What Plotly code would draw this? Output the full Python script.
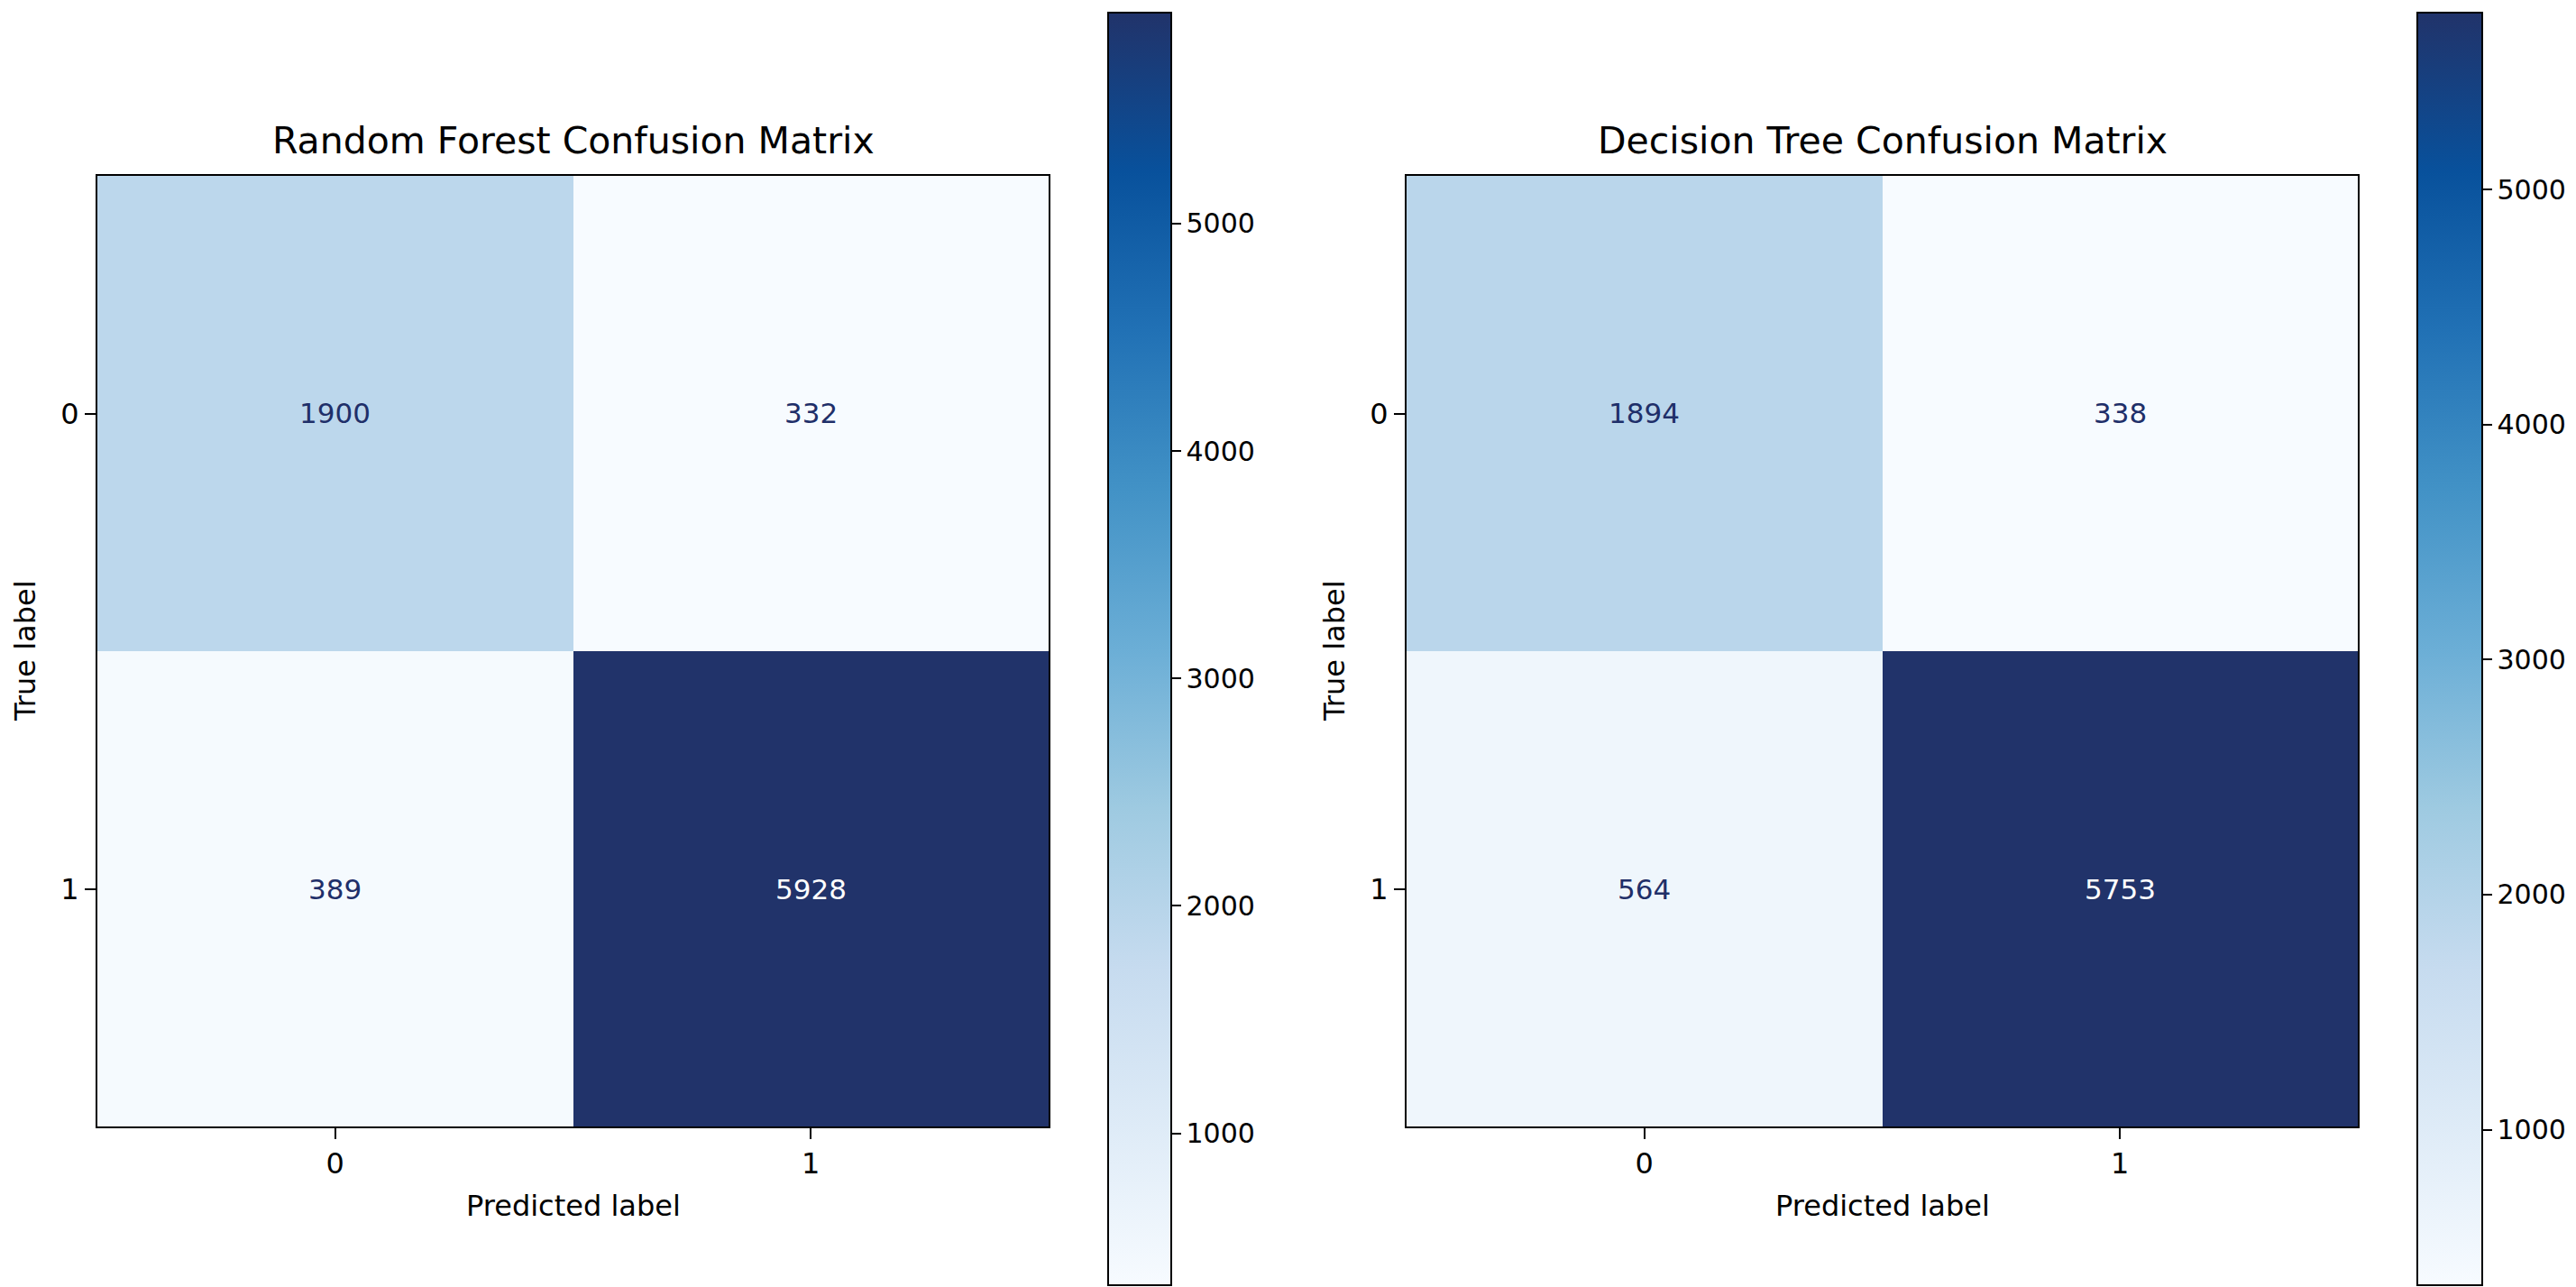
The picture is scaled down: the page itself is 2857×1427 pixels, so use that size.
import plotly.graph_objects as go

W, H = 2857, 1427

labels = [0, 1]
rf_matrix = [[1900, 332], [389, 5928]]
dt_matrix = [[1894, 338], [564, 5753]]
titles = ["Random Forest Confusion Matrix", "Decision Tree Confusion Matrix"]
cbar_ticks = [1000, 2000, 3000, 4000, 5000]

dark = "#21336a"
text_dark = "#1f2f69"
blues = [
    [0.0, "#f7fbff"], [0.125, "#deebf7"], [0.25, "#c6dbef"], [0.375, "#9ecae1"],
    [0.5, "#6baed6"], [0.625, "#4292c6"], [0.75, "#2171b5"], [0.875, "#08519c"],
    [1.0, dark],
]

FONT = "DejaVu Sans"

def px_x(p):
    return p / W

def px_y(p):
    return 1 - p / H

panels = [
    dict(m=rf_matrix, title=titles[0], ax=(100, 1155), cb=(1221, 1291), xa="x", ya="y"),
    dict(m=dt_matrix, title=titles[1], ax=(1552, 2607), cb=(2673, 2745), xa="x2", ya="y2"),
]
top, bottom = 187, 1241

fig = go.Figure()
annotations = []
for i, p in enumerate(panels):
    m = p["m"]
    flat = [v for row in m for v in row]
    zmin, zmax = min(flat), max(flat)
    fig.add_trace(go.Heatmap(
        z=m, x=labels, y=labels, colorscale=blues, zmin=zmin, zmax=zmax,
        xaxis=p["xa"], yaxis=p["ya"], hoverinfo="skip",
        colorbar=dict(
            x=px_x(p["cb"][0]), xanchor="left", xpad=0, ypad=0,
            y=px_y((6 + 1417) / 2), yanchor="middle", len=(1417 - 6) / H, lenmode="fraction",
            thickness=p["cb"][1] - p["cb"][0], thicknessmode="pixels",
            outlinewidth=2, outlinecolor="black",
            tickvals=cbar_ticks, ticks="outside", ticklen=10, tickwidth=2, tickcolor="black",
            tickfont=dict(family=FONT, size=30, color="black"),
        ),
    ))
    thresh = (zmax + zmin) / 2
    for r, row in enumerate(m):
        for c, v in enumerate(row):
            annotations.append(dict(
                x=labels[c], y=labels[r], xref=p["xa"], yref=p["ya"], text=str(v),
                showarrow=False,
                font=dict(family=FONT, size=31, color="white" if v > thresh else text_dark),
            ))
    x0, x1 = p["ax"]
    cx = (x0 + x1) / 2
    annotations.append(dict(x=px_x(cx), y=px_y(148), xref="paper", yref="paper", text=p["title"],
                            showarrow=False, xanchor="center", yanchor="middle",
                            font=dict(family=FONT, size=41, color="black")))
    annotations.append(dict(x=px_x(cx), y=px_y(1329), xref="paper", yref="paper", text="Predicted label",
                            showarrow=False, xanchor="center", yanchor="middle",
                            font=dict(family=FONT, size=32, color="black")))
    annotations.append(dict(x=px_x(x0 - 80), y=px_y((top + bottom) / 2), xref="paper", yref="paper",
                            text="True label", textangle=-90, showarrow=False,
                            xanchor="center", yanchor="middle",
                            font=dict(family=FONT, size=32, color="black")))

axis_common = dict(
    showline=True, linecolor="black", linewidth=2, mirror=True,
    ticks="outside", ticklen=12, tickwidth=2, tickcolor="black",
    showgrid=False, zeroline=False, tickvals=labels, ticktext=[str(v) for v in labels],
    tickfont=dict(family=FONT, size=32, color="black"),
)

fig.update_layout(
    width=W, height=H, margin=dict(l=0, r=0, t=0, b=0),
    paper_bgcolor="white", plot_bgcolor="white",
    annotations=annotations,
    xaxis=dict(domain=[px_x(100), px_x(1155)], range=[-0.5, 1.5], anchor="y", **axis_common),
    yaxis=dict(domain=[px_y(bottom), px_y(top)], range=[1.5, -0.5], anchor="x", **axis_common),
    xaxis2=dict(domain=[px_x(1552), px_x(2607)], range=[-0.5, 1.5], anchor="y2", **axis_common),
    yaxis2=dict(domain=[px_y(bottom), px_y(top)], range=[1.5, -0.5], anchor="x2", **axis_common),
)

fig.write_html("out.html")
